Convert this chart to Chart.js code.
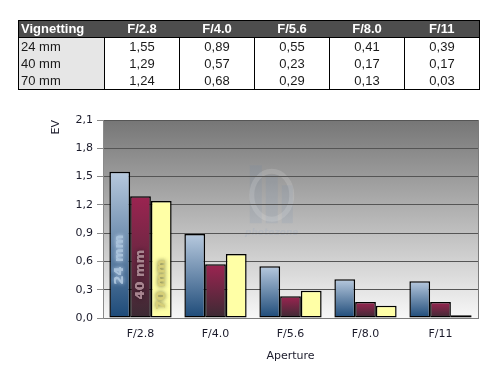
<!DOCTYPE html>
<html><head><meta charset="utf-8">
<script src="https://cdn.jsdelivr.net/npm/chart.js@4/dist/chart.umd.min.js"></script>
<style>
html,body{margin:0;padding:0;background:#fff;width:499px;height:383px;overflow:hidden;}
#wrap{position:absolute;left:0;top:0;width:499px;height:383px;}
table{position:absolute;left:18px;top:20px;border-collapse:collapse;table-layout:fixed;width:461px;z-index:2;font-family:"Liberation Sans",Arial,sans-serif;font-size:13px;}
th{background:#4d4d4d;color:#fff;font-weight:bold;height:16px;padding:0;line-height:16px;text-align:center;border:1px solid #000;border-left:none;border-right:none;}
th:first-child{text-align:left;padding-left:2px;border-left:1px solid #000;}
th:last-child{border-right:1px solid #000;}
td{height:17px;padding:0;line-height:17px;text-align:center;color:#1a1a1a;border-left:1px solid #000;border-right:1px solid #000;}
td.lab{text-align:left;background:#e6e6e6;padding-left:2px;}
tr:last-child td{border-bottom:1px solid #000;}
</style></head>
<body>
<div id="wrap"><canvas id="c" width="499" height="383"></canvas></div>
<table id="t"></table>
<script>
const categories = ["F/2.8","F/4.0","F/5.6","F/8.0","F/11"];
const seriesNames = ["24 mm","40 mm","70 mm"];
const s24 = [1.55,0.89,0.55,0.41,0.39];
const s40 = [1.29,0.57,0.23,0.17,0.17];
const s70 = [1.24,0.68,0.29,0.13,0.03];
const yTicks = [0,0.3,0.6,0.9,1.2,1.5,1.8,2.1];
const tableHeader = "Vignetting";

const fmt2 = v => v.toFixed(2).replace('.',',');
const fmt1 = v => v.toFixed(1).replace('.',',');

// table
(function(){
  const t = document.getElementById('t');
  let h = '<colgroup><col style="width:86px">' + categories.map(()=>'<col style="width:75px">').join('') + '</colgroup>';
  h += '<tr><th>'+tableHeader+'</th>' + categories.map(c=>'<th>'+c+'</th>').join('') + '</tr>';
  const all=[s24,s40,s70];
  seriesNames.forEach((n,i)=>{
    h += '<tr><td class="lab">'+n+'</td>' + all[i].map(v=>'<td>'+fmt2(v)+'</td>').join('') + '</tr>';
  });
  t.innerHTML = h;
})();

function barGrad(top, bottom){
  return function(ctx){
    const chart = ctx.chart;
    if(!chart.chartArea || ctx.type!=='data') return bottom;
    const y = chart.scales.y;
    const v = ctx.raw;
    const y0 = y.getPixelForValue(v), y1 = y.getPixelForValue(0);
    if(!isFinite(y0)||!isFinite(y1)||y0===y1) return bottom;
    const g = chart.ctx.createLinearGradient(0,y0,0,y1);
    g.addColorStop(0, top);
    g.addColorStop(1, bottom);
    return g;
  };
}

const bgPlugin = {
  id:'bg',
  beforeDraw(chart){
    const {ctx, chartArea:a} = chart;
    const g = ctx.createLinearGradient(0,a.top,0,a.bottom);
    g.addColorStop(0,'#767676');
    g.addColorStop(1,'#f7f7f7');
    ctx.save();
    ctx.fillStyle = g;
    ctx.fillRect(a.left,a.top,a.right-a.left,a.bottom-a.top);
    // faint watermark
    const cx = a.left + (a.right-a.left)*0.45, cy = a.top + (a.bottom-a.top)*0.38;
    ctx.globalAlpha = 0.10;
    ctx.fillStyle = '#5a7fb0';
    ctx.fillRect(cx-22, cy-30, 12, 58);
    ctx.fillRect(cx-6, cy-20, 12, 48);
    ctx.fillRect(cx+10, cy-10, 11, 38);
    ctx.globalAlpha = 0.18;
    ctx.strokeStyle = '#e8e8e8';
    ctx.lineWidth = 5;
    ctx.beginPath();
    ctx.ellipse(cx, cy, 20, 24, 0, 0, Math.PI*2);
    ctx.stroke();
    ctx.globalAlpha = 0.18;
    ctx.fillStyle = '#8aa0c0';
    ctx.font = 'italic bold 9px "DejaVu Sans"';
    ctx.textAlign = 'center';
    ctx.fillText('photozone', cx, cy+40);
    ctx.restore();
  },
  afterDraw(chart){
    const {ctx, chartArea:a} = chart;
    ctx.save();
    ctx.strokeStyle = '#7a7a7a';
    ctx.lineWidth = 1;
    ctx.beginPath();
    ctx.moveTo(a.right+0.5, a.top);
    ctx.lineTo(a.right+0.5, a.bottom);
    ctx.stroke();
    ctx.restore();
  }
};

const labelPlugin = {
  id:'barLabels',
  afterDatasetsDraw(chart){
    const ctx = chart.ctx;
    const fills = ['#a9c2da','#a88590','#d6cf78'];
    const glows = ['rgba(220,235,255,0.9)','rgba(40,20,30,0.8)','rgba(60,60,30,0.9)'];
    const lifts = [33,18,8];
    ctx.save();
    chart.data.datasets.forEach((ds,i)=>{
      const el = chart.getDatasetMeta(i).data[0];
      ctx.save();
      ctx.translate(el.x, el.base - lifts[i]);
      ctx.rotate(-Math.PI/2);
      ctx.font = 'bold 13px "DejaVu Sans"';
      ctx.textAlign = 'left';
      ctx.textBaseline = 'middle';
      ctx.shadowColor = glows[i];
      ctx.shadowBlur = 4;
      ctx.fillStyle = fills[i];
      ctx.fillText(ds.label, 0, 0);
      ctx.shadowBlur = 0;
      ctx.fillText(ds.label, 0, 0);
      ctx.restore();
    });
    ctx.restore();
  }
};

const font = {family:'"DejaVu Sans", Verdana, sans-serif', size:11};

new Chart(document.getElementById('c'), {
  type:'bar',
  data:{
    labels: categories,
    datasets:[
      {label:seriesNames[0], data:s24, backgroundColor:barGrad('#b7c9de','#1d4a78'), borderColor:'#000', borderWidth:1.5, borderSkipped:false},
      {label:seriesNames[1], data:s40, backgroundColor:barGrad('#9c2451','#3b2a33'), borderColor:'#000', borderWidth:1.5, borderSkipped:false},
      {label:seriesNames[2], data:s70, backgroundColor:'#ffffa6', borderColor:'#000', borderWidth:1.5, borderSkipped:false}
    ]
  },
  options:{
    responsive:false,
    animation:false,
    devicePixelRatio:1,
    layout:{padding:{left:50,right:21,top:120,bottom:0}},
    datasets:{bar:{categoryPercentage:0.83,barPercentage:1}},
    plugins:{legend:{display:false},tooltip:{enabled:false}},
    scales:{
      x:{
        grid:{display:false,drawTicks:false},
        border:{display:true,color:'#7a7a7a'},
        ticks:{font:font,color:'#1a1a2a',padding:10},
        title:{display:true,text:'Aperture',font:font,color:'#1a1a2a',padding:{top:0,bottom:20}},
        afterFit(s){ s.height = 65; }
      },
      y:{
        min:0,max:2.1,
        afterBuildTicks(s){ s.ticks = yTicks.map(v=>({value:v})); },
        grid:{color:'#555555',tickColor:'#8a8a8a',tickLength:6,lineWidth:1},
        border:{display:true,color:'#8a8a8a'},
        ticks:{font:font,color:'#1a1a2a',padding:4,callback:v=>fmt1(v)},
        title:{display:true,text:'EV',align:'end',font:font,color:'#1a1a2a',padding:{top:0,bottom:0}},
        afterFit(s){ s.width = 53; }
      }
    }
  },
  plugins:[bgPlugin,labelPlugin]
});
</script>
</body></html>
